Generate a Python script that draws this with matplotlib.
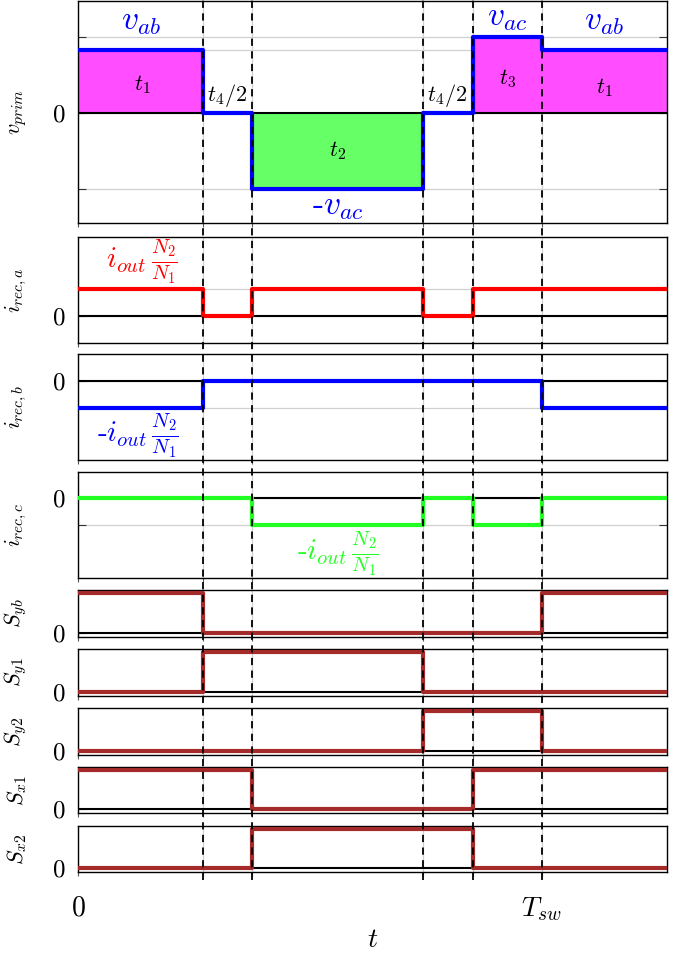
import matplotlib
matplotlib.use("Agg")
import matplotlib.pyplot as plt

plt.rcParams['mathtext.fontset'] = 'cm'
plt.rcParams['font.family'] = 'serif'
plt.rcParams['font.serif'] = ['cmr10', 'DejaVu Serif']
plt.rcParams['axes.formatter.use_mathtext'] = True

# switching instants (normalised to Tsw)
t_edges = [0.0, 0.269, 0.375, 0.744, 0.851, 1.0, 1.27]
t_ticks = [0.0, 0.269, 0.375, 0.744, 0.851, 1.0]
x_ticklabels = ['$0$', '', '', '', '', '$T_{sw}$']

v_ab = 0.83
v_ac = 1.0

# level in each interval between t_edges
v_prim = [v_ab, 0, -v_ac, 0, v_ac, v_ab]
i_rec_a = [1, 0, 1, 0, 1, 1]
i_rec_b = [-1, 0, 0, 0, 0, -1]
i_rec_c = [0, 0, -1, 0, -1, 0]
s_yb = [1, 0, 0, 0, 0, 1]
s_y1 = [0, 1, 1, 0, 0, 0]
s_y2 = [0, 0, 0, 1, 1, 0]
s_x1 = [1, 1, 0, 0, 1, 1]
s_x2 = [0, 0, 1, 1, 0, 0]

W, H = 679, 955
fig = plt.figure(figsize=(W / 100, H / 100), dpi=100)
x0, x1 = 78, 667


def make_ax(top, bottom):
    ax = fig.add_axes([x0 / W, 1 - bottom / H, (x1 - x0) / W, (bottom - top) / H])
    ax.set_xlim(0, 1.27)
    ax.set_xticks(t_ticks)
    ax.set_xticklabels([])
    ax.grid(True, color='#d0d0d0', lw=0.9)
    ax.set_axisbelow(True)
    ax.tick_params(axis='y', direction='in', length=6, color='#333333',
                   right=True, labelsize=18, pad=9)
    ax.tick_params(axis='x', direction='out', length=3, color='#555555')
    for s in ax.spines.values():
        s.set_linewidth(1.0)
    ax.axhline(0, color='black', lw=1.5, zorder=2)
    return ax


def step(ax, levels, color, lw=3):
    y = list(levels) + [levels[-1]]
    ax.plot(t_edges, y, drawstyle='steps-post', color=color, lw=lw, zorder=3)


def ylabel(ax, text):
    ax.set_ylabel(text, fontsize=16)
    ax.yaxis.set_label_coords((29 - x0) / (x1 - x0), 0.5)


# primary voltage
ax = make_ax(1, 223)
ax.set_ylim(-1.45, 1.47)
ax.set_yticks([-v_ac, 0, v_ab, v_ac])
ax.set_yticklabels(['', '$0$', '', ''])
y = v_prim + [v_prim[-1]]
ax.fill_between(t_edges, y, 0, step='post', where=[v >= 0 for v in y],
                color='#ff4dff', lw=0, zorder=1)
ax.fill_between(t_edges, y, 0, step='post', where=[v <= 0 for v in y],
                color='#66ff66', lw=0, zorder=1)
step(ax, v_prim, '#0000ff')
ylabel(ax, '$v_{prim}$')
ax.text(0.135, 1.0, '$v_{ab}$', color='#0000ff', fontsize=24, ha='center', va='bottom')
ax.text(0.139, 0.37, '$t_1$', fontsize=16, ha='center', va='center')
ax.text(0.322, 0.23, '$t_4/2$', fontsize=16, ha='center', va='center')
ax.text(0.56, -0.5, '$t_2$', fontsize=16, ha='center', va='center')
ax.text(0.56, -1.06, '-$v_{ac}$', color='#0000ff', fontsize=24, ha='center', va='top')
ax.text(0.797, 0.23, '$t_4/2$', fontsize=16, ha='center', va='center')
ax.text(0.926, 1.05, '$v_{ac}$', color='#0000ff', fontsize=24, ha='center', va='bottom')
ax.text(0.926, 0.45, '$t_3$', fontsize=16, ha='center', va='center')
ax.text(1.135, 1.0, '$v_{ab}$', color='#0000ff', fontsize=24, ha='center', va='bottom')
ax.text(1.135, 0.33, '$t_1$', fontsize=16, ha='center', va='center')

# rectifier currents
ax = make_ax(237, 343)
ax.set_ylim(-1.0, 2.93)
ax.set_yticks([0, 1])
ax.set_yticklabels(['$0$', ''])
step(ax, i_rec_a, '#ff0000')
ylabel(ax, '$i_{rec,a}$')
ax.text(0.138, 2.0, r'$i_{out}\,\frac{N_2}{N_1}$', color='#ff0000', fontsize=21,
        ha='center', va='center')

ax = make_ax(354, 460)
ax.set_ylim(-2.93, 1.0)
ax.set_yticks([-1, 0])
ax.set_yticklabels(['', '$0$'])
step(ax, i_rec_b, '#0000ff')
ylabel(ax, '$i_{rec,b}$')
ax.text(0.13, -2.05, r'-$i_{out}\,\frac{N_2}{N_1}$', color='#0000ff', fontsize=21,
        ha='center', va='center')

ax = make_ax(472, 578)
ax.set_ylim(-2.95, 0.96)
ax.set_yticks([-1, 0])
ax.set_yticklabels(['', '$0$'])
step(ax, i_rec_c, '#22ff22')
ylabel(ax, '$i_{rec,c}$')
ax.text(0.56, -2.05, r'-$i_{out}\,\frac{N_2}{N_1}$', color='#22ff22', fontsize=21,
        ha='center', va='center')

# gate signals
panels = [(590, 637, s_yb, '$S_{yb}$'), (649, 696, s_y1, '$S_{y1}$'),
          (708, 755, s_y2, '$S_{y2}$'), (767, 813, s_x1, '$S_{x1}$'),
          (826, 872, s_x2, '$S_{x2}$')]
for top, bottom, sig, name in panels:
    ax = make_ax(top, bottom)
    ax.set_ylim(-0.1, 1.075)
    ax.set_yticks([0])
    ax.set_yticklabels(['$0$'])
    ax.grid(False, axis='y')
    step(ax, sig, '#a52a2a')
    ylabel(ax, name)

ax.set_xticklabels(x_ticklabels, fontsize=20)
ax.tick_params(axis='x', pad=14)
ax.set_xlabel('$t$', fontsize=20)
ax.xaxis.set_label_coords(0.5, -(940 - 872) / 46)
ax.xaxis.label.set_va('center')

# dashed switching lines across all panels
ov = fig.add_axes([x0 / W, 1 - 880 / H, (x1 - x0) / W, 880 / H])
ov.set_xlim(0, 1.27)
ov.set_ylim(0, 1)
ov.axis('off')
ov.patch.set_alpha(0)
for t in t_ticks[1:]:
    ov.axvline(t, color='black', lw=1.3, ls=(0, (4, 3)), zorder=5)

fig.savefig('out.png', dpi=100)
